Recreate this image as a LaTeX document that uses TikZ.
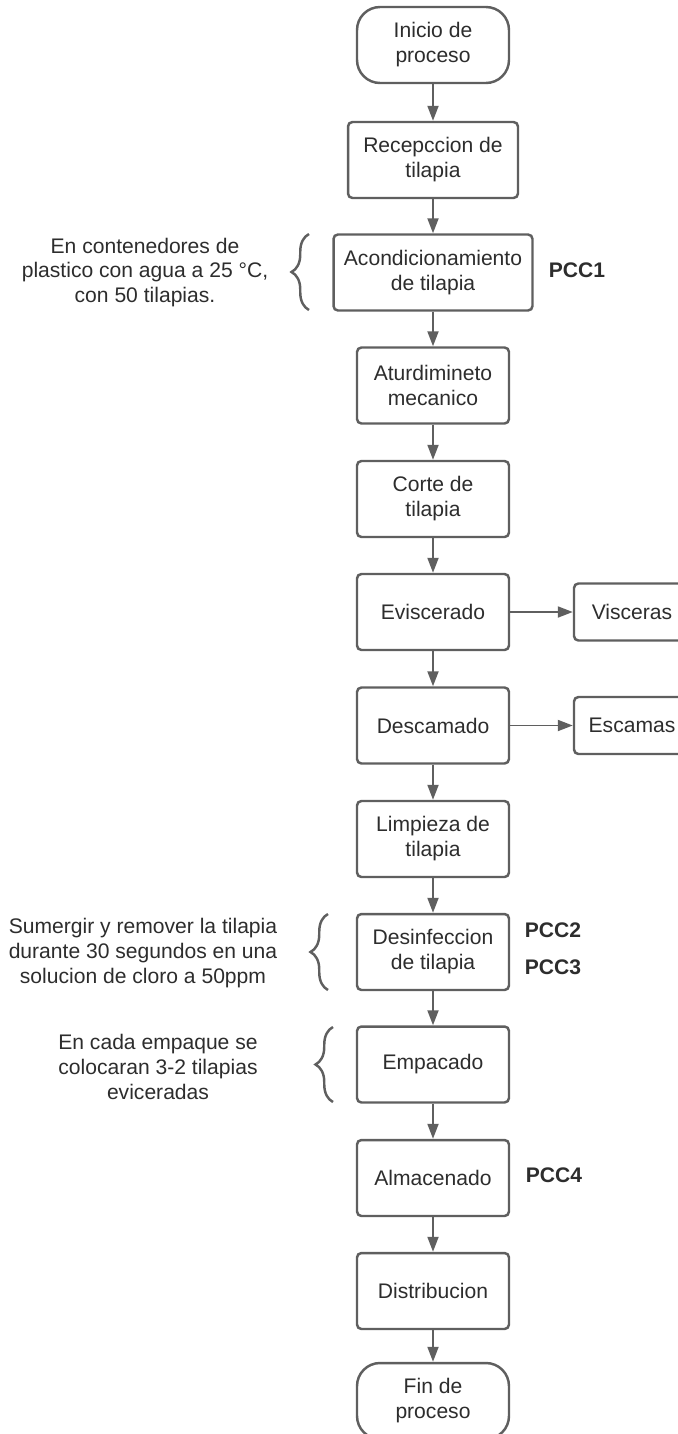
\documentclass[tikz,border=0pt]{standalone}
\usepackage{fontspec}
\setmainfont{Liberation Sans}
\usetikzlibrary{arrows.meta,decorations.pathreplacing}
\definecolor{linegray}{RGB}{95,95,95}
\definecolor{textgray}{RGB}{45,45,45}

\begin{document}
\begin{tikzpicture}[x=0.02cm,y=-0.02cm,
  every node/.style={font=\fontsize{12}{14.2}\selectfont,text=textgray},
  paso/.style={draw=linegray,line width=1.4pt,fill=white,rounded corners=2.5pt,align=center,
     minimum width=3.04cm,minimum height=1.52cm,inner sep=2pt},
  borde/.style={paso,rounded corners=0.46cm},
  salida/.style={paso,minimum width=2.32cm,minimum height=1.14cm},
  flecha/.style={draw=linegray,line width=1.1pt,-{Triangle[length=0.3cm,width=0.22cm]}},
  llave/.style={draw=linegray,line width=1.4pt,decorate,decoration={brace,amplitude=0.35cm}},
  nota/.style={align=center},
  pcc/.style={font=\fontsize{12}{14.2}\selectfont\bfseries}]
  \useasboundingbox (0,0) rectangle (678,1434);
  \clip (0,0) rectangle (678,1434);
  \node[borde] (inicio) at (433,45){Inicio de\\proceso};
  \node[paso,minimum width=3.4cm] (recepcion) at (433,160){Recepccion de\\tilapia};
  \node[paso,minimum width=3.98cm] (acond) at (433,272.5){Acondicionamiento\\de tilapia};
  \node[paso] (aturd) at (433,385.5){Aturdimineto\\mecanico};
  \node[paso] (corte) at (433,499){Corte de\\tilapia};
  \node[paso] (evisc) at (433,612){Eviscerado};
  \node[paso] (descam) at (433,725.5){Descamado};
  \node[paso] (limp) at (433,839){Limpieza de\\tilapia};
  \node[paso] (desinf) at (433,952){Desinfeccion\\de tilapia};
  \node[paso] (empac) at (433,1064.5){Empacado};
  \node[paso] (almac) at (433,1178){Almacenado};
  \node[paso] (distrib) at (433,1291){Distribucion};
  \node[borde] (fin) at (433,1401){Fin de\\proceso};
  \node[salida] (visceras) at (632,612){Visceras};
  \node[salida] (escamas) at (632,725.5){Escamas};
  \draw[flecha] (inicio) -- (recepcion);
  \draw[flecha] (recepcion) -- (acond);
  \draw[flecha] (acond) -- (aturd);
  \draw[flecha] (aturd) -- (corte);
  \draw[flecha] (corte) -- (evisc);
  \draw[flecha] (evisc) -- (descam);
  \draw[flecha] (descam) -- (limp);
  \draw[flecha] (limp) -- (desinf);
  \draw[flecha] (desinf) -- (empac);
  \draw[flecha] (empac) -- (almac);
  \draw[flecha] (almac) -- (distrib);
  \draw[flecha] (distrib) -- (fin);
  \draw[flecha] (evisc) -- (visceras);
  \draw[flecha] (descam) -- (escamas);
  \draw[llave] (309,310) -- (309,234);
  \draw[llave] (328,990) -- (328,914);
  \draw[llave] (333,1102) -- (333,1027);
  \node[nota] (notaacond) at (145,272.5){En contenedores de\\plastico con agua a 25 °C,\\con 50 tilapias.};
  \node[nota] (notadesinf) at (143,953){Sumergir y remover la tilapia\\durante 30 segundos en una\\solucion de cloro a 50ppm};
  \node[nota] (notaempac) at (158,1067){En cada empaque se\\colocaran 3-2 tilapias\\eviceradas};
  \node[pcc] (pcc1) at (577,270){PCC1};
  \node[pcc] (pcc2) at (553,930){PCC2};
  \node[pcc] (pcc3) at (553,967){PCC3};
  \node[pcc] (pcc4) at (554,1175){PCC4};
\end{tikzpicture}
\end{document}
